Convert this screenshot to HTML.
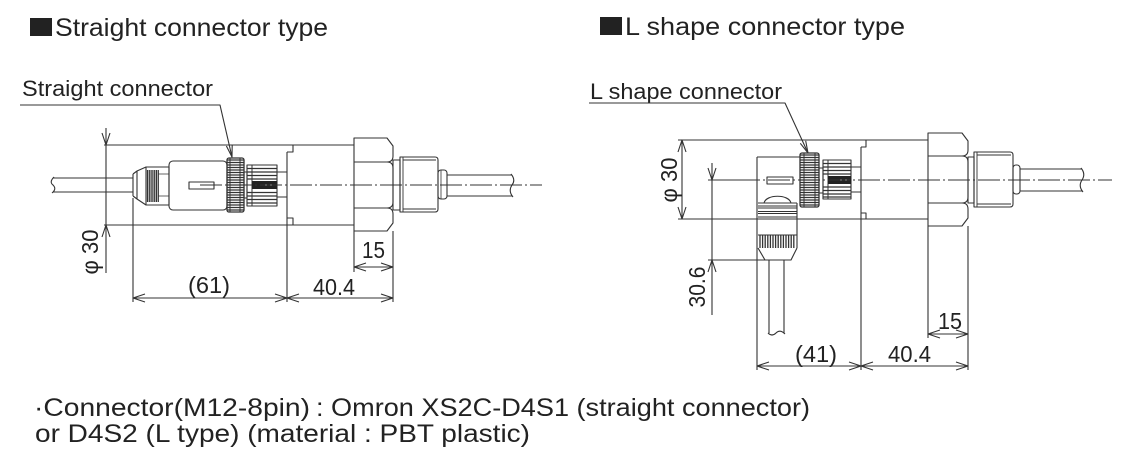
<!DOCTYPE html>
<html><head><meta charset="utf-8"><style>
html,body{margin:0;padding:0;background:#fff;}
svg{display:block;}
text{font-family:"Liberation Sans","Noto Sans CJK JP",sans-serif;fill:#222;}
</style></head><body>
<svg width="1129" height="468" viewBox="0 0 1129 468" xmlns="http://www.w3.org/2000/svg">
<rect width="1129" height="468" fill="#fff"/>

<!-- Titles -->
<rect x="30" y="18" width="22" height="18" fill="#222"/>
<text x="55" y="36" font-size="25" textLength="273" lengthAdjust="spacingAndGlyphs">Straight connector type</text>
<rect x="600" y="17" width="22" height="18" fill="#222"/>
<text x="625" y="35" font-size="25" textLength="280" lengthAdjust="spacingAndGlyphs">L shape connector type</text>

<!-- Labels -->
<text x="22" y="96" font-size="22" textLength="191" lengthAdjust="spacingAndGlyphs">Straight connector</text>
<text x="590" y="99" font-size="22" textLength="192" lengthAdjust="spacingAndGlyphs">L shape connector</text>

<g stroke="#333" stroke-width="1.1" fill="none" stroke-linejoin="round">
  <!-- ===== LEFT DRAWING ===== -->
  <path d="M20,105H220L232,157"/>
  <polyline points="226.4,146 232,157 232.2,144.6"/>

  <path d="M104,145H354M104,225H354"/>
  <path d="M293,145V152H287M287,152V302M287,218H293V225"/>

  <path d="M53,178H133M53,192H133"/>
  <path d="M54,177Q49,182 53,185Q57,189 52,193"/>
  <path d="M133,174V196M133,174L137,171L146,167M133,196L137,199L146,205M137,171V199"/>
  <rect x="146" y="167" width="23" height="38"/>
  <path d="M147.5,170V202M149.3,170V202M151.1,170V202M152.9,170V202M154.7,170V202M156.5,170V202M158.3,170V202" stroke-width="1.2"/>
  <path d="M158,174H169M158,196H169" stroke-width="0.8"/>
  <rect x="169" y="161" width="58" height="49" rx="4"/>
  <rect x="189" y="182" width="25" height="7"/>
  <rect x="227" y="158" width="17" height="54" rx="2" stroke-width="1.3"/>
  <path d="M227,160h17M227,162.5h17M227,165h17M227,167.5h17M227,170h17M227,172.5h17M227,175h17M227,177.5h17M227,180h17M227,182.5h17M227,185h17M227,187.5h17M227,190h17M227,192.5h17M227,195h17M227,197.5h17M227,200h17M227,202.5h17M227,205h17M227,207.5h17M227,210h17" stroke-width="1.3"/>
  <path d="M240,158V212M230,158V212" stroke-width="1"/>
  <rect x="244" y="172" width="3" height="26"/>
  <rect x="247" y="165" width="30" height="41"/>
  <path d="M247,168.5h30M247,172h30M247,175.5h30M247,179h30M247,192.5h30M247,196h30M247,199.5h30M247,203h30" stroke-width="1.2"/>
  <path d="M252,165V206" stroke-width="1"/>
  <path d="M277,172H287M277,197H287"/>

  <path d="M354,138H387L393,146V156Q393,162 387,162Q393,162 393,168V202Q393,208 387,208Q393,208 393,214V223L387,231H354Z"/>
  <path d="M354,162H387M354,208H387"/>
  <rect x="393" y="160" width="7" height="50"/>
  <path d="M400,157H435Q438,157 438,160V209Q438,212 435,212H400Z"/>
  <path d="M403,157V212M403,160H436M403,209H436" stroke-width="0.9"/>
  <rect x="438" y="170" width="9" height="29" rx="3"/>
  <path d="M441,170V199" stroke-width="0.8"/>
  <path d="M447,175H512M447,196H512"/>
  <path d="M511,174Q516,180 512,185Q508,191 513,197"/>

  <path d="M106,128V273"/>
  <polyline points="102,133 106,145 110,133"/>
  <polyline points="102,237 106,225 110,237"/>
  <path d="M133,198V302M393,231V302M354,231V272"/>
  <path d="M133,298H393"/>
  <polyline points="145,294 133,298 145,302"/>
  <polyline points="275,294 287,298 275,302"/>
  <polyline points="299,294 287,298 299,302"/>
  <polyline points="381,294 393,298 381,302"/>
  <path d="M354,267H393"/>
  <polyline points="366,263 354,267 366,271"/>
  <polyline points="381,263 393,267 381,271"/>

  <!-- ===== RIGHT DRAWING ===== -->
  <path d="M589,103H785L808,153"/>
  <polyline points="800.3,143.3 808,153 805.7,140.8"/>

  <path d="M678,140H928M678,219H928"/>
  <path d="M866,140V147H861M861,147V370M861,213H866V219"/>

  <path d="M757,157V370M757,157H800M797,203V248"/>
  <rect x="767" y="177" width="26" height="7"/>
  <path d="M764,203C766,194 789,194 791,203"/>
  <path d="M758,203H797M758,206H797M758,208H797M758,211.5H797M758,213.5H797M758,217H797M758,219H797M758,235H797"/>
  <path d="M760,235V248M762.6,235V248M765.2,235V248M767.8,235V248M770.4,235V248M773,235V248M775.6,235V248M778.2,235V248M780.8,235V248M783.4,235V248M786,235V248M788.6,235V248M791.2,235V248M793.8,235V248" stroke-width="1.3"/>
  <path d="M758,248L765,260H791L797,248"/>
  <path d="M769,260V333M784,260V333"/>
  <path d="M768,333Q772,337 776,333Q780,329 785,334"/>

  <rect x="800" y="153" width="19" height="54" rx="2" stroke-width="1.3"/>
  <path d="M800,155h19M800,157.5h19M800,160h19M800,162.5h19M800,165h19M800,167.5h19M800,170h19M800,172.5h19M800,175h19M800,177.5h19M800,180h19M800,182.5h19M800,185h19M800,187.5h19M800,190h19M800,192.5h19M800,195h19M800,197.5h19M800,200h19M800,202.5h19M800,205h19" stroke-width="1.3"/>
  <path d="M815,153V207M804,153V207" stroke-width="1"/>
  <rect x="819" y="168" width="4" height="25"/>
  <rect x="823" y="160" width="28" height="39"/>
  <path d="M823,163.5h28M823,167h28M823,170.5h28M823,174h28M823,187h28M823,190.5h28M823,194h28M823,197h28" stroke-width="1.2"/>
  <path d="M828,160V199" stroke-width="1"/>
  <path d="M851,167H861M851,192H861"/>

  <path d="M928,133H962L968,141V150Q968,156 962,156Q968,156 968,162V197Q968,203 962,203Q968,203 968,209V218L962,226H928Z"/>
  <path d="M928,156H962M928,203H962"/>
  <rect x="968" y="157" width="6" height="46"/>
  <path d="M974,152H1010Q1013,152 1013,155V204Q1013,207 1010,207H974Z"/>
  <path d="M977,152V207M977,155H1011M977,204H1011" stroke-width="0.9"/>
  <rect x="1013" y="165" width="7" height="29" rx="3"/>
  <path d="M1020,169H1082M1020,191H1082"/>
  <path d="M1081,168Q1086,174 1082,180Q1078,186 1083,192"/>

  <path d="M682,140V219"/>
  <polyline points="678,152 682,140 686,152"/>
  <polyline points="678,207 682,219 686,207"/>
  <path d="M712,163V315"/>
  <polyline points="708,168 712,180 716,168"/>
  <polyline points="708,272 712,260 716,272"/>
  <path d="M708,260H765"/>
  <path d="M968,226V370M928,226V338"/>
  <path d="M757,366H968"/>
  <polyline points="769,362 757,366 769,370"/>
  <polyline points="849,362 861,366 849,370"/>
  <polyline points="873,362 861,366 873,370"/>
  <polyline points="956,362 968,366 956,370"/>
  <path d="M928,334H968"/>
  <polyline points="940,330 928,334 940,338"/>
  <polyline points="956,330 968,334 956,338"/>
</g>

<rect x="252" y="181" width="25" height="8" fill="#222"/>
<circle cx="266" cy="185" r="0.9" fill="#fff"/>
<circle cx="271" cy="185" r="0.9" fill="#fff"/>
<rect x="828" y="176" width="23" height="8" fill="#222"/>
<circle cx="841" cy="180" r="0.9" fill="#fff"/>
<circle cx="846" cy="180" r="0.9" fill="#fff"/>

<g stroke="#333" stroke-width="1" fill="none">
  <path d="M200,185H542" stroke-dasharray="22 3 2 3"/>
  <path d="M708,180H1112" stroke-dasharray="22 3 2 3"/>
  <path d="M708,180H760"/>
</g>

<g font-size="23">
  <text x="188" y="293" textLength="42" lengthAdjust="spacingAndGlyphs">(61)</text>
  <text x="313" y="295" textLength="42" lengthAdjust="spacingAndGlyphs">40.4</text>
  <text x="362" y="258" textLength="23" lengthAdjust="spacingAndGlyphs">15</text>
  <text x="795" y="362" textLength="42" lengthAdjust="spacingAndGlyphs">(41)</text>
  <text x="888" y="362" textLength="43" lengthAdjust="spacingAndGlyphs">40.4</text>
  <text x="938" y="329" textLength="24" lengthAdjust="spacingAndGlyphs">15</text>
</g>
<g font-size="23">
  <text transform="translate(98,252) rotate(-90)" text-anchor="middle" textLength="45" lengthAdjust="spacingAndGlyphs">φ 30</text>
  <text transform="translate(677,180) rotate(-90)" text-anchor="middle" textLength="45" lengthAdjust="spacingAndGlyphs">φ 30</text>
  <text transform="translate(705,287) rotate(-90)" text-anchor="middle" textLength="41" lengthAdjust="spacingAndGlyphs">30.6</text>
</g>

<g font-size="25">
  <text x="34" y="416" textLength="276" lengthAdjust="spacingAndGlyphs">·Connector(M12-8pin)</text>
  <text x="316" y="416" textLength="494" lengthAdjust="spacingAndGlyphs">: Omron XS2C-D4S1 (straight connector)</text>
  <text x="35" y="442" textLength="495" lengthAdjust="spacingAndGlyphs">or D4S2 (L type) (material : PBT plastic)</text>
</g>
</svg>
</body></html>
